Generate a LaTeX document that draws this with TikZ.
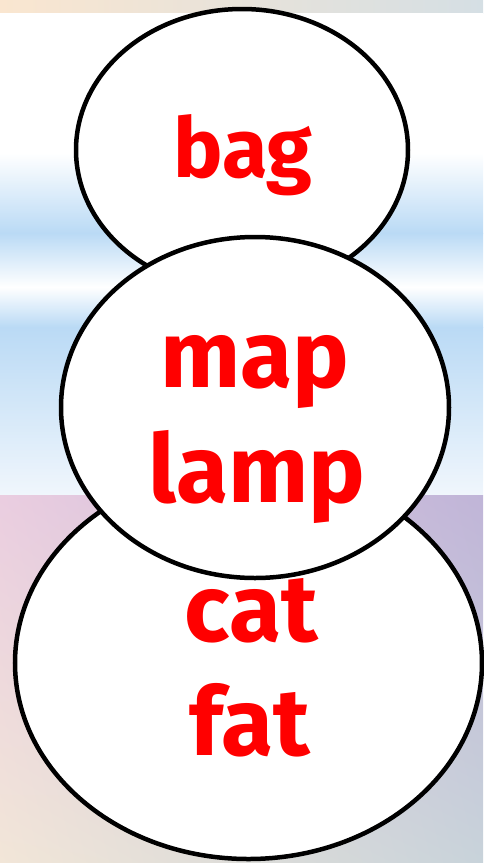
\documentclass[tikz,border=0pt]{standalone}
\usepackage{fontspec}
\setmainfont{Fira Sans}
\usepackage{xcolor}
\definecolor{wordred}{RGB}{255,0,0}
\definecolor{stripblue}{RGB}{186,218,245}
\definecolor{palewhite}{RGB}{240,246,252}
\definecolor{beigetop}{RGB}{250,230,208}
\definecolor{slatetop}{RGB}{213,223,228}
\definecolor{pinkul}{RGB}{234,205,224}
\definecolor{lavur}{RGB}{192,181,216}
\definecolor{beigell}{RGB}{242,230,216}
\definecolor{slatelr}{RGB}{200,211,218}
\usetikzlibrary{shapes.geometric,positioning,shadings}

\begin{document}
\begin{tikzpicture}[
  x=1pt,y=-1pt,
  bubble/.style={ellipse,draw=black,line width=4.5pt,fill=white,inner sep=0pt},
  wordbig/.style={font=\fontsize{95}{114}\selectfont\bfseries,text=wordred,
                  anchor=base,inner sep=0pt},
  wordsmall/.style={font=\fontsize{83}{100}\selectfont\bfseries,text=wordred,
                    anchor=base,inner sep=0pt},
]
  \useasboundingbox (0,0) rectangle (483,863);

  % Background bands
  \shade[left color=beigetop,right color=slatetop] (0,0) rectangle (483,13);
  \fill[white] (0,13) rectangle (483,495);
  \shade[top color=white,bottom color=stripblue] (0,153) rectangle (483,233);
  \shade[top color=stripblue,bottom color=white] (0,233) rectangle (483,287);
  \shade[top color=white,bottom color=stripblue] (0,287) rectangle (483,327);
  \shade[top color=stripblue,bottom color=palewhite] (0,327) rectangle (483,495);
  \shade[upper left=pinkul,upper right=lavur,lower left=beigell,lower right=slatelr]
    (0,495) rectangle (483,863);

  % Bubbles (bottom one first)
  \node[bubble,minimum width=467pt,minimum height=392pt] (catfat) at (248.5,663) {};
  \node[bubble,minimum width=332pt,minimum height=282pt] (bag) at (242,150) {};
  \node[bubble,minimum width=388pt,minimum height=341pt] (maplamp) at (255,407.5) {};

  % Words
  \node[wordsmall] (bagword) at (243,177) {bag};
  \node[wordbig] (mapword) at (255,387) {map};
  \node[wordbig] (lampword) at (257,502) {lamp};
  \node[wordbig] (catword) at (251,641) {cat};
  \node[wordbig] (fatword) at (250,755) {fat};
\end{tikzpicture}
\end{document}
